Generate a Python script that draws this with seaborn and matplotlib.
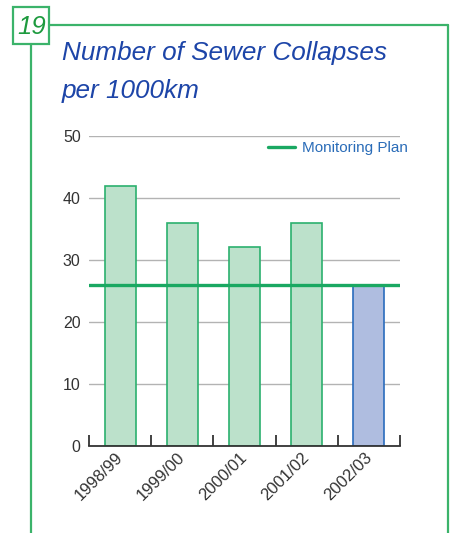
import matplotlib
matplotlib.use("Agg")
import matplotlib.pyplot as plt
import matplotlib.transforms as mtransforms
import seaborn as sns
import pandas as pd
from matplotlib.lines import Line2D
from matplotlib.patches import Rectangle

# ---- data ----
years = ["1998/99", "1999/00", "2000/01", "2001/02", "2002/03"]
collapses = [42, 36, 32, 36, 26]
monitoring_plan = 26
yticks = [0, 10, 20, 30, 40, 50]

fills = ["#bce1cb", "#bce1cb", "#bce1cb", "#bce1cb", "#afbde0"]
edges = ["#2bb06e", "#2bb06e", "#2bb06e", "#2bb06e", "#2a6cbd"]

sns.set_style("white")
plt.rcParams["font.family"] = ["Liberation Sans", "DejaVu Sans"]

W, H = 453, 533
fig = plt.figure(figsize=(W / 100, H / 100), dpi=100)

def fx(px):
    return px / W

def fy(py):
    return 1 - py / H

ax_l, ax_r, ax_t, ax_b = 89, 400, 136, 445.7
ax = fig.add_axes([fx(ax_l), fy(ax_b), fx(ax_r) - fx(ax_l), fy(ax_t) - fy(ax_b)])

df = pd.DataFrame({"year": years, "value": collapses})
sns.barplot(data=df, x="year", y="value", hue="year", palette=fills,
            legend=False, width=0.5, ax=ax, saturation=1)
for p, ec in zip(ax.patches, edges):
    p.set_edgecolor(ec)
    p.set_linewidth(1.2)
    p.set_zorder(2)

ax.set_xlim(-0.5, len(years) - 0.5)
ax.set_ylim(0, 50)
ax.set_yticks(yticks)
ax.set_yticklabels([str(v) for v in yticks])
ax.yaxis.grid(True, color="#b3b3b3", linewidth=1.0, zorder=0)
ax.set_axisbelow(True)
ax.set_xlabel("")
ax.set_ylabel("")

for s in ["left", "right", "top"]:
    ax.spines[s].set_visible(False)
ax.spines["bottom"].set_color("#333333")
ax.spines["bottom"].set_linewidth(1.3)

ax.tick_params(axis="y", length=0, labelsize=11.5, labelcolor="#333333", pad=6)
ax.set_xticks(range(len(years)))
ax.set_xticklabels(years, rotation=45, ha="right", rotation_mode="anchor",
                   fontsize=12, color="#333333")
ax.tick_params(axis="x", which="major", length=0, pad=5)
offset = mtransforms.ScaledTranslation(-5 / 100, 3 / 100, fig.dpi_scale_trans)
for lab in ax.get_xticklabels():
    lab.set_transform(lab.get_transform() + offset)
ax.set_xticks([i - 0.5 for i in range(len(years) + 1)], minor=True)
ax.tick_params(axis="x", which="minor", bottom=True, direction="in", length=8,
               width=1.3, color="#333333")

plan_color = "#1aa862"
ax.axhline(monitoring_plan, color=plan_color, linewidth=2.4, zorder=3)

span = ax_r - ax_l
handle = Line2D([], [], color=plan_color, linewidth=2.4)
leg = ax.legend([handle], ["Monitoring Plan"], loc="center left",
                bbox_to_anchor=((268 - ax_l) / span, 1 - (148 - ax_t) / (ax_b - ax_t)),
                frameon=False, fontsize=11, handlelength=1.75,
                handletextpad=0.5, borderaxespad=0, borderpad=0)
for t in leg.get_texts():
    t.set_color("#2a6cb8")

# ---- frame ----
frame_c = "#3bb36a"
fig.add_artist(Line2D([fx(31), fx(31)], [fy(44), fy(533)], color=frame_c, lw=1.6))
fig.add_artist(Line2D([fx(49), fx(448)], [fy(25), fy(25)], color=frame_c, lw=1.6))
fig.add_artist(Line2D([fx(448), fx(448)], [fy(25), fy(533)], color=frame_c, lw=1.6))
fig.add_artist(Rectangle((fx(12.5), fy(44)), fx(49) - fx(12.5), fy(7) - fy(44),
                         fill=False, edgecolor=frame_c, lw=1.6, transform=fig.transFigure))
fig.text(fx(31.5), fy(26.5), "19", color="#1d9a3e", fontsize=18.5, style="italic",
         ha="center", va="center")

fig.text(fx(62), fy(60), "Number of Sewer Collapses", color="#1d45a8",
         fontsize=18.8, style="italic", ha="left", va="baseline")
fig.text(fx(62), fy(98), "per 1000km", color="#1d45a8",
         fontsize=18.8, style="italic", ha="left", va="baseline")

fig.savefig("out.png", dpi=100)
